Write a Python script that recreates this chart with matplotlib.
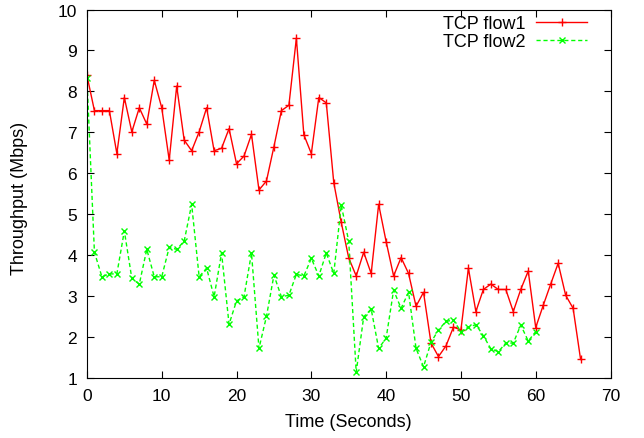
import matplotlib
matplotlib.use("Agg")
from matplotlib import pyplot as plt

plt.rcParams['font.family'] = ['Liberation Sans', 'DejaVu Sans']

# throughput samples, one per second
flow1 = [8.39, 7.53, 7.53, 7.53, 6.48, 7.85, 7.01, 7.60, 7.20, 8.27,
         7.60, 6.32, 8.13, 6.81, 6.55, 7.01, 7.60, 6.55, 6.61, 7.09,
         6.23, 6.42, 6.95, 5.59, 5.81, 6.65, 7.53, 7.66, 9.30, 6.94,
         6.48, 7.85, 7.72, 5.77, 4.80, 3.93, 3.49, 4.07, 3.55, 5.24,
         4.33, 3.49, 3.94, 3.55, 2.75, 3.09, 1.85, 1.52, 1.78, 2.24,
         2.17, 3.68, 2.62, 3.16, 3.29, 3.16, 3.16, 2.62, 3.16, 3.61,
         2.23, 2.77, 3.29, 3.80, 3.02, 2.70, 1.45]
flow2 = [8.33, 4.07, 3.47, 3.54, 3.54, 4.59, 3.43, 3.29, 4.14, 3.47,
         3.47, 4.19, 4.14, 4.34, 5.24, 3.47, 3.68, 2.98, 4.05, 2.31,
         2.88, 2.98, 4.05, 1.72, 2.50, 3.51, 2.98, 3.02, 3.53, 3.49,
         3.92, 3.49, 4.05, 3.55, 5.22, 4.34, 1.14, 2.49, 2.68, 1.72,
         1.97, 3.14, 2.70, 3.09, 1.72, 1.27, 1.87, 2.17, 2.38, 2.41,
         2.13, 2.24, 2.30, 2.03, 1.71, 1.64, 1.85, 1.85, 2.29, 1.90,
         2.13]
t1 = list(range(len(flow1)))
t2 = list(range(len(flow2)))

fig = plt.figure(figsize=(6.44, 4.39), dpi=100)
ax = fig.add_axes([0.135, 0.137, 0.813, 0.839])

ax.plot(t1, flow1, color='#ff0000', lw=1, marker='+', ms=6, mew=1, label='TCP flow1')
ax.plot(t2, flow2, color='#00ff00', lw=1, ls=(0, (3, 2)), marker='x', ms=5, mew=1, label='TCP flow2')

ax.set_xlim(0, 70)
ax.set_ylim(1, 10)
ax.set_xticks(range(0, 71, 10))
ax.set_yticks(range(1, 11))
ax.tick_params(direction='in', top=True, right=True, labelsize=12.5, length=5, pad=7)
ax.set_xlabel('Time (Seconds)', fontsize=13)
ax.set_ylabel('Throughput (Mbps)', fontsize=13)
ax.xaxis.set_label_coords(0.5, -0.095)
ax.yaxis.set_label_coords(-0.112, 0.49)

ax.legend(loc='upper right', bbox_to_anchor=(0.955, 0.985), frameon=False,
          markerfirst=False, fontsize=13, handlelength=2.8, handletextpad=0.6,
          borderaxespad=0, borderpad=0, labelspacing=0.05)

fig.savefig('out.png', dpi=100)
